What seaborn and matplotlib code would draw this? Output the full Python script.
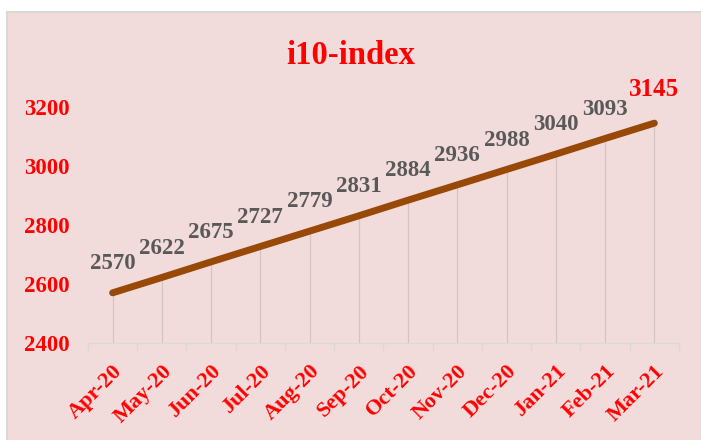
import numpy as np
import pandas as pd
import seaborn as sns
import matplotlib.pyplot as plt
from matplotlib.patches import Rectangle

months = ['Apr-20', 'May-20', 'Jun-20', 'Jul-20', 'Aug-20', 'Sep-20',
          'Oct-20', 'Nov-20', 'Dec-20', 'Jan-21', 'Feb-21', 'Mar-21']
i10_index = [2570, 2622, 2675, 2727, 2779, 2831, 2884, 2936, 2988, 3040, 3093, 3145]
y_ticks = [2400, 2600, 2800, 3000, 3200]

sns.set_style('white')
plt.rcParams['font.family'] = ['Liberation Serif', 'DejaVu Serif']
plt.rcParams['font.weight'] = 'bold'

pink = '#F2DCDB'
df = pd.DataFrame({'pos': np.arange(len(months)), 'value': i10_index})

fig = plt.figure(figsize=(7.01, 4.40), dpi=100, facecolor='white')
bg = Rectangle((0.01, -0.01), 1.0, 0.9827, transform=fig.transFigure,
               facecolor=pink, edgecolor='#D9D9D9', linewidth=1.5, zorder=-1)
fig.add_artist(bg)
ax = fig.add_axes([0.1255, 0.2205, 0.8431, 0.5365])
ax.set_zorder(1)
ax.set_facecolor(pink)
ax.patch.set_alpha(0)

# drop lines
ax.vlines(df['pos'], y_ticks[0], df['value'], color='#D3C4C4', linewidth=0.9, zorder=1)
sns.lineplot(data=df, x='pos', y='value', ax=ax, color='#984807', linewidth=5,
             solid_capstyle='round', zorder=3)

for i, (p, v) in enumerate(zip(df['pos'], df['value'])):
    last = i == len(df) - 1
    ax.annotate(str(v), (p, v), xytext=(0, 21 if not last else 24), textcoords='offset points',
                ha='center', va='center', fontsize=18 if last else 16.5, fontweight='bold',
                color='#FF0000' if last else '#595959', annotation_clip=False)

ax.set_xlim(-0.5, len(months) - 0.5)
ax.set_ylim(y_ticks[0], y_ticks[-1])
ax.set_yticks(y_ticks)
ax.set_yticklabels([str(t) for t in y_ticks], color='#FF0000', fontsize=16.5, fontweight='bold')
ax.tick_params(axis='y', length=0, pad=13)

ax.set_xticks(df['pos'])
ax.set_xticklabels(months, rotation=45, ha='right', rotation_mode='anchor',
                   color='#FF0000', fontsize=16, fontweight='bold')
ax.tick_params(axis='x', length=0, pad=13)
ax.set_xticks(np.arange(len(months) + 1) - 0.5, minor=True)
ax.tick_params(axis='x', which='minor', length=6, width=1, color='#D9D9D9', direction='out')
ax.xaxis.set_ticks_position('bottom')

for s in ['top', 'right', 'left']:
    ax.spines[s].set_visible(False)
ax.spines['bottom'].set_color('#D9D9D9')
ax.spines['bottom'].set_linewidth(1)

ax.set_xlabel('')
ax.set_ylabel('')
fig.text(0.5, 0.873, 'i10-index', ha='center', va='center', fontsize=23.5,
         fontweight='bold', color='#FF0000')

fig.savefig('out.png', dpi=100, facecolor='white')
